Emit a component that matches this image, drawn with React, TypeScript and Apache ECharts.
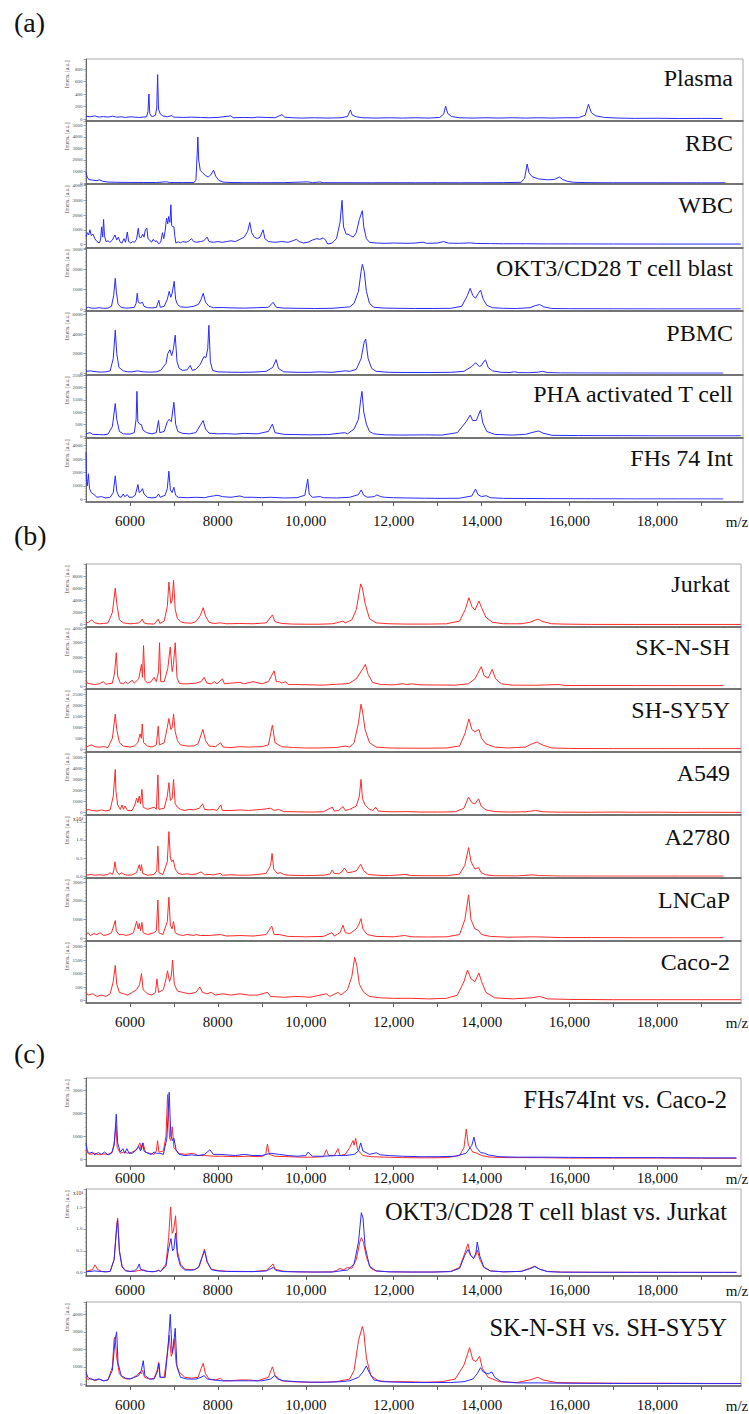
import React, { useEffect, useRef } from 'react';
import * as echarts from 'echarts';

// ---------- DATA (m/z, intensity pairs) ----------
const plasma = [5000,45,5100,35,5200,50,5300,30,5400,40,5500,30,5600,45,5700,30,5800,35,5900,25,6000,35,6100,30,6200,25,6300,30,6380,35,6410,120,6432,400,6450,90,6480,50,6520,40,6580,60,6610,180,6630,710,6650,160,6690,80,6750,50,6850,35,6948,55,7000,30,7200,25,7400,30,7600,25,7800,20,8000,25,8296,50,8350,20,8600,25,8800,20,8900,30,9100,25,9300,20,9460,70,9520,30,9700,20,9900,15,10200,20,10500,15,10800,20,10950,40,11017,145,11060,60,11150,35,11300,20,11600,15,11900,20,12200,15,12500,20,12800,15,13050,25,13140,80,13183,205,13230,90,13320,40,13500,20,13800,15,14100,20,14400,15,14700,20,15000,15,15300,20,15600,15,15900,20,16200,20,16360,60,16433,235,16500,100,16600,50,16800,25,17100,15,17500,10,18000,12,18500,8,19000,10,19480,8];
const rbc = [5000,950,5020,600,5060,300,5150,250,5250,200,5300,280,5380,150,5500,80,5700,60,6000,50,6300,45,6600,40,6834,110,6900,40,7200,35,7450,40,7500,200,7530,2500,7545,4000,7565,2000,7600,1100,7650,900,7720,650,7780,520,7840,700,7903,1120,7950,600,8020,250,8115,80,8300,40,8600,30,9000,25,9500,30,10050,100,10150,30,10320,90,10400,30,10800,25,11500,20,12000,25,12500,20,13000,25,13500,20,14000,25,14500,30,14900,60,14980,400,15038,1650,15080,900,15150,550,15300,350,15500,280,15650,300,15774,520,15850,300,15950,150,16100,60,16400,30,17000,20,18000,20,19000,15,19550,15];
const wbc = [5000,500,5030,800,5060,650,5090,1000,5120,600,5160,700,5200,400,5250,200,5300,100,5330,300,5356,1200,5380,500,5400,1700,5420,600,5455,200,5500,250,5545,150,5600,300,5660,650,5700,300,5735,500,5780,150,5820,100,5864,400,5900,150,5940,850,5970,200,6020,100,6060,200,6100,150,6150,350,6190,1100,6215,500,6250,450,6290,700,6320,500,6350,1000,6386,1100,6410,400,6450,300,6490,150,6530,350,6570,200,6610,250,6650,50,6700,150,6740,800,6770,400,6800,900,6833,1800,6860,1400,6880,1900,6909,1500,6932,2700,6950,1300,6970,1200,7000,1200,7020,600,7045,100,7100,180,7150,120,7200,200,7280,150,7350,250,7400,400,7450,200,7520,150,7600,200,7680,250,7757,500,7800,200,7900,150,8000,200,8100,150,8200,200,8300,250,8400,200,8500,350,8600,500,8680,900,8727,1500,8770,800,8830,500,8900,400,8960,500,9030,1000,9070,400,9150,200,9300,150,9450,200,9600,150,9700,250,9788,350,9850,200,9950,100,10050,150,10150,300,10250,400,10320,350,10400,450,10450,300,10500,30,10600,100,10700,400,10780,1500,10826,3000,10860,1200,10920,700,10962,700,11020,600,11080,500,11150,800,11220,1700,11288,2300,11320,1200,11380,400,11450,150,11600,100,11800,80,12000,100,12300,80,12500,100,12668,160,12750,80,13000,100,13137,200,13250,90,13500,80,13728,110,13900,70,14200,60,14500,50,15000,50,15500,40,16000,40,17000,35,18000,30,19000,30,19900,30];
const okt3 = [5000,60,5060,100,5120,60,5200,50,5300,80,5400,50,5500,60,5580,150,5630,700,5666,1550,5690,900,5730,250,5800,100,5900,60,6000,70,6100,100,6140,300,6166,800,6190,350,6230,300,6286,350,6320,150,6400,80,6500,70,6600,90,6657,450,6690,100,6780,150,6850,500,6893,900,6930,600,6960,800,7007,1400,7040,500,7080,250,7150,120,7300,100,7450,150,7560,250,7620,500,7667,800,7720,350,7800,150,7900,80,8100,90,8300,70,8600,60,8900,80,9150,100,9258,350,9330,100,9500,60,9800,50,10200,40,10600,50,10888,100,11000,120,11100,300,11200,900,11260,1900,11289,2250,11330,1900,11380,900,11450,300,11550,100,11800,60,12100,50,12500,40,12900,40,13300,50,13550,150,13680,700,13742,1050,13800,700,13864,550,13930,800,13978,960,14040,500,14120,200,14250,80,14500,50,14800,40,15100,80,15220,180,15320,240,15420,120,15600,40,16000,30,17000,25,18000,20,19000,20,19900,20];
const pbmc = [5000,200,5100,250,5160,200,5250,150,5350,120,5450,150,5550,250,5620,1500,5666,4400,5700,2000,5750,600,5850,250,5950,150,6050,150,6173,250,6300,150,6450,120,6600,150,6700,300,6820,1000,6860,2000,6909,2400,6950,1800,6990,2500,7030,3900,7070,1200,7120,500,7200,300,7300,350,7371,800,7420,300,7500,400,7600,900,7682,1700,7730,1600,7770,2500,7796,4900,7830,1200,7880,300,8000,150,8200,120,8500,100,8800,120,9100,200,9250,600,9326,1400,9380,500,9500,150,9800,100,10100,100,10318,150,10600,100,10900,250,11000,200,11150,400,11260,1500,11330,3200,11364,3500,11420,1500,11500,500,11600,200,11900,100,12300,80,12800,80,13300,100,13600,200,13780,700,13864,1080,13950,700,14000,800,14060,1250,14091,1370,14150,600,14250,250,14450,100,14650,80,14750,160,14850,70,15100,60,15300,120,15390,200,15500,80,15800,40,16500,30,17500,25,18500,20,19500,20];
const pha = [5000,100,5090,150,5150,80,5300,70,5400,60,5500,90,5600,400,5666,1350,5700,700,5760,200,5850,100,6000,90,6100,150,6140,700,6159,1850,6180,600,6220,500,6260,480,6300,250,6380,150,6500,100,6600,150,6650,650,6680,150,6780,200,6850,600,6893,700,6940,600,7000,1400,7040,500,7090,200,7200,120,7350,100,7500,150,7600,450,7666,650,7720,300,7800,130,8000,100,8200,110,8400,90,8600,120,8900,100,9150,200,9242,500,9300,150,9500,80,9800,70,10100,60,10500,70,10886,150,10950,100,11100,300,11200,700,11250,1500,11280,1850,11320,1000,11380,500,11450,200,11550,100,11800,60,12200,50,12700,60,13100,50,13450,150,13650,600,13742,870,13800,650,13880,650,13977,1080,14030,550,14120,200,14300,80,14700,50,15000,80,15200,180,15303,220,15400,130,15600,40,16200,30,17200,25,18200,20,19200,20,19900,20];
const fhs74 = [5000,3500,5010,1500,5030,1000,5055,1900,5080,800,5120,500,5200,300,5250,150,5350,200,5450,100,5550,150,5620,500,5666,1750,5700,600,5750,200,5800,150,5848,400,5880,200,5940,350,5980,150,6050,150,6120,300,6182,1100,6210,500,6250,600,6286,800,6320,400,6400,150,6500,100,6600,150,6650,400,6690,150,6800,300,6850,800,6886,2100,6920,700,6960,500,7000,900,7040,300,7100,150,7300,120,7500,150,7700,120,7800,200,7900,250,8000,300,8100,200,8300,150,8500,250,8600,150,8800,150,9000,120,9200,150,9500,100,9800,120,9980,300,10045,1500,10080,400,10150,150,10330,200,10400,120,10700,100,11000,150,11200,350,11264,700,11320,300,11400,150,11560,200,11621,330,11700,200,11800,150,12000,120,12300,100,12700,80,13100,70,13500,80,13780,250,13864,760,13920,350,14000,200,14106,270,14200,120,14500,70,15000,60,15500,50,16500,40,17500,30,18500,30,19500,25];

const jurkat = [5000,300,5060,400,5129,800,5200,300,5300,150,5400,200,5500,300,5600,2000,5666,6000,5700,3500,5760,800,5850,300,6000,150,6100,200,6200,300,6240,500,6280,900,6320,300,6400,150,6550,100,6644,900,6680,200,6780,600,6850,3000,6886,7000,6930,3500,6960,4000,6992,7300,7030,2500,7080,1000,7150,500,7250,300,7400,250,7500,500,7600,1500,7666,2800,7720,1400,7800,400,7900,200,8060,300,8200,150,8500,200,8800,150,9100,300,9241,1600,9300,500,9450,200,9700,100,10000,80,10300,80,10600,150,10700,300,10848,600,10900,300,11050,800,11150,2500,11250,6700,11290,6000,11350,3500,11450,1000,11600,300,11900,150,12300,100,12800,100,13200,150,13500,600,13630,2500,13712,4430,13780,3000,13850,2400,13940,3900,14000,2800,14100,1200,14250,400,14500,150,14900,150,15100,400,15280,920,15400,500,15600,150,16000,80,16500,50,17500,40,18500,40,19500,40,19900,40];
const sknsh = [5000,400,5030,200,5100,150,5200,100,5300,150,5394,300,5450,120,5600,200,5650,900,5689,2300,5720,700,5780,200,5850,150,5900,300,5950,150,6050,400,6100,200,6200,500,6263,1500,6285,600,6309,2800,6340,400,6400,200,6480,300,6550,600,6600,300,6650,1000,6673,3000,6700,300,6780,300,6860,1200,6917,2700,6960,1000,6990,1500,7030,3000,7070,600,7120,200,7200,150,7300,150,7500,200,7620,300,7689,600,7750,200,7850,150,7920,300,7980,150,8106,500,8150,150,8300,200,8500,250,8600,150,8800,300,9000,150,9150,300,9280,1050,9330,300,9400,300,9450,200,9540,300,9600,100,9800,100,10100,80,10400,60,10700,120,10900,150,11000,200,11150,500,11300,1200,11356,1500,11420,800,11520,250,11700,100,12000,80,12212,160,12300,100,12400,150,12600,80,13000,70,13400,60,13700,150,13850,500,13993,1340,14060,700,14150,550,14243,1150,14320,500,14450,150,14700,60,15200,50,15757,100,15900,40,16500,30,17500,30,18500,25,19500,25];
const shsy5y = [5000,100,5060,150,5129,200,5200,120,5300,100,5400,120,5500,80,5600,500,5666,1600,5700,900,5760,300,5850,150,6000,100,6100,150,6180,300,6230,700,6260,500,6280,1150,6310,300,6400,150,6500,100,6600,200,6644,1050,6670,200,6780,300,6850,1000,6886,1400,6930,900,6960,1000,6992,1600,7030,800,7080,400,7150,200,7300,150,7450,150,7550,250,7659,900,7720,400,7800,150,7950,120,8060,300,8120,100,8300,80,8500,120,8700,100,9000,120,9150,200,9241,1100,9300,300,9450,120,9700,80,10000,60,10300,60,10700,80,10900,150,11000,100,11100,300,11200,1200,11257,2050,11290,1750,11350,900,11450,300,11600,100,11900,60,12300,50,12800,50,13200,60,13500,150,13620,700,13712,1380,13780,900,13850,800,13940,900,14000,500,14100,250,14300,100,14600,60,15000,100,15150,250,15265,330,15380,200,15600,60,16000,40,17000,30,18000,30,19000,30,19900,30];
const a549 = [5000,200,5060,300,5130,200,5250,150,5350,250,5450,150,5550,250,5620,1500,5666,3900,5680,2000,5720,700,5780,300,5820,700,5850,300,5890,600,5940,200,6050,200,6110,700,6151,1300,6180,900,6212,1500,6240,800,6273,2100,6300,500,6400,300,6550,500,6600,300,6636,3400,6660,300,6780,400,6850,1500,6886,2700,6920,1100,6960,1300,6992,3000,7030,800,7080,500,7150,300,7250,200,7350,300,7450,250,7580,400,7651,800,7700,300,7800,250,7900,300,7980,200,8068,700,8100,200,8300,200,8500,250,8700,200,9000,300,9200,400,9290,200,9380,300,9500,100,9800,80,10100,60,10400,80,10605,500,10650,150,10750,200,10848,550,10900,200,11000,300,11150,600,11220,1500,11257,3000,11290,1300,11350,700,11450,300,11530,200,11591,500,11650,150,11800,100,12000,80,12300,100,12600,60,13000,60,13400,80,13600,400,13705,1400,13780,900,13850,800,13932,1250,13990,600,14100,250,14300,100,14600,60,15000,80,15227,200,15400,80,15800,50,16500,40,17000,60,17500,40,18000,50,18500,30,19000,40,19900,30];
const a2780 = [5000,300,5100,500,5200,300,5300,400,5400,300,5500,500,5545,1000,5600,500,5630,1500,5659,4000,5690,1500,5750,500,5820,1000,5860,500,5950,300,6050,400,6150,1000,6212,3200,6240,1500,6263,3200,6290,800,6400,300,6550,500,6610,1500,6636,8300,6660,1000,6750,500,6850,4000,6886,12300,6920,5000,6950,4000,6985,4500,7030,2000,7100,800,7200,500,7300,700,7400,500,7500,600,7620,1200,7700,400,7800,500,7900,400,8060,800,8100,300,8300,400,8500,300,8700,300,8900,500,9100,800,9200,3000,9234,6300,9270,2000,9350,800,9430,1000,9500,500,9600,300,10000,200,10400,300,10550,600,10598,1700,10650,800,10750,700,10820,1200,10880,2300,10950,1000,11062,1200,11150,1500,11250,3300,11320,1500,11420,500,11600,300,11900,200,12273,500,12400,200,12800,150,13200,150,13500,600,13620,3000,13705,7900,13760,4000,13850,2000,13932,2400,13990,1000,14100,400,14300,150,14800,100,15180,400,15300,200,15800,80,16500,60,17500,50,18500,50,19500,50];
const lncap = [5000,200,5050,300,5100,150,5180,250,5250,200,5320,300,5400,150,5500,200,5580,300,5636,700,5666,950,5690,400,5750,200,5850,200,5900,150,6000,200,6080,300,6151,900,6190,500,6212,800,6240,400,6273,850,6300,300,6400,200,6550,300,6600,400,6636,2050,6660,300,6750,200,6850,900,6886,2200,6920,700,6960,500,6992,900,7030,300,7100,200,7200,150,7300,200,7450,150,7500,200,7600,150,7800,150,8060,200,8200,120,8500,150,8800,120,9100,200,9227,650,9280,200,9400,200,9600,100,10000,80,10400,100,10598,300,10650,120,10780,300,10848,700,10900,300,11000,250,11150,500,11200,700,11257,1050,11300,500,11400,200,11600,100,12000,80,12250,150,12400,80,12800,70,13200,80,13500,200,13620,1000,13705,2330,13760,1000,13850,500,13932,420,14000,200,14200,100,14600,60,15200,80,15800,40,16500,40,17500,30,18500,30,19500,30];
const caco2 = [5000,300,5050,200,5150,250,5250,150,5350,200,5450,150,5550,250,5620,700,5666,1300,5700,600,5760,300,5850,250,5950,200,6050,300,6150,400,6220,600,6263,1000,6300,400,6400,250,6500,200,6580,300,6614,800,6650,300,6760,400,6820,800,6855,1100,6900,700,6940,900,6970,1500,7010,600,7080,350,7200,300,7350,250,7500,300,7591,500,7650,300,7750,250,7850,300,7950,200,8100,250,8300,200,8500,250,8700,200,8900,200,9128,300,9200,150,9500,120,9800,150,10100,120,10470,250,10550,150,10735,300,10800,200,10950,400,11050,900,11114,1600,11160,1300,11220,600,11320,300,11450,150,11700,100,12000,80,12400,80,12800,60,13200,80,13450,200,13600,700,13680,1130,13760,800,13850,700,13940,1020,14000,700,14100,300,14300,100,14700,60,15150,100,15320,150,15500,60,16000,40,17000,30,18000,30,19000,30,19900,30];

const c1Fhs = [5000,700,5030,350,5080,250,5150,300,5200,180,5280,280,5350,200,5420,300,5500,180,5580,250,5640,600,5689,1950,5720,700,5780,300,5840,450,5880,250,5930,450,5980,250,6050,250,6120,350,6200,550,6240,350,6286,700,6320,350,6400,250,6480,200,6550,300,6600,250,6680,250,6760,200,6840,900,6893,2900,6930,1000,6970,800,7000,900,7050,400,7120,200,7250,150,7400,180,7550,150,7700,200,7818,400,7900,200,8050,200,8200,180,8400,150,8600,200,8800,150,9000,150,9200,250,9400,200,9600,150,9800,120,10000,150,10053,300,10150,120,10400,120,10700,150,10900,150,11100,200,11200,350,11250,700,11300,350,11450,200,11605,270,11700,180,11900,150,12200,120,12600,100,13000,100,13400,120,13650,250,13780,600,13826,950,13880,500,13980,280,14070,250,14150,180,14400,100,14800,80,15400,80,16000,70,17000,60,18000,60,19000,50,19800,50];
const c1Caco = [5000,400,5040,250,5100,200,5200,250,5300,180,5400,220,5500,200,5600,300,5650,800,5682,1450,5710,500,5780,250,5850,300,5950,250,6050,300,6150,400,6227,700,6260,400,6300,700,6350,300,6450,250,6550,200,6600,350,6628,800,6660,300,6760,350,6820,1000,6856,2800,6900,900,6930,800,6962,1400,7000,500,7100,250,7250,200,7440,250,7550,150,7700,150,7900,120,8100,120,8400,100,8700,120,9000,100,9090,200,9128,650,9170,200,9300,120,9600,100,9900,80,10200,80,10400,100,10470,400,10520,150,10650,150,10735,450,10780,150,10900,200,11000,500,11075,800,11100,600,11136,900,11180,400,11300,150,11500,100,11800,80,12200,60,12700,50,13200,60,13500,150,13600,500,13652,1300,13700,600,13800,300,13900,250,14000,150,14200,80,14600,60,15300,60,16000,40,17000,40,18000,40,19000,30,19800,30];
const c2Okt3 = [5000,200,5200,400,5300,300,5450,200,5550,300,5640,3000,5700,10500,5720,12000,5760,5000,5820,1300,5900,400,6000,300,6100,400,6170,1000,6212,2000,6240,800,6300,500,6400,300,6550,250,6650,500,6700,300,6820,1500,6880,5500,6932,7800,6970,5000,7000,5500,7038,9000,7080,4000,7150,1500,7250,600,7450,600,7560,1200,7640,3500,7700,5000,7760,2500,7850,700,8000,400,8200,300,8500,250,8800,250,9100,400,9260,1200,9320,500,9500,250,9800,200,10200,150,10600,150,10850,500,10950,600,11100,2000,11200,7000,11265,13700,11303,12500,11350,6000,11450,1500,11600,400,11900,200,12400,150,12900,150,13300,250,13500,1000,13620,4000,13690,5300,13750,4000,13820,3200,13870,4500,13902,7000,13960,3800,14050,1300,14200,400,14500,200,14900,300,15100,900,15212,1400,15320,800,15500,250,15800,120,16500,100,17500,80,18500,80,19500,70,19800,70];
const c2Jurkat = [5000,300,5150,700,5205,1800,5260,800,5350,300,5450,200,5550,300,5640,3000,5700,11000,5720,12500,5760,5000,5820,1500,5900,500,6000,300,6100,300,6200,500,6300,700,6400,300,6500,200,6600,300,6650,600,6700,300,6820,2000,6880,8000,6925,15000,6960,9000,6990,9500,7038,13000,7080,5000,7150,2000,7250,800,7400,700,7500,800,7580,1500,7640,3500,7695,5400,7750,2500,7850,800,8000,500,8200,300,8500,300,8800,250,9100,500,9258,2000,9300,800,9500,300,9800,200,10200,150,10600,200,10700,500,10780,1000,10850,600,10950,1200,11050,1000,11150,3000,11230,7000,11265,8000,11310,7000,11380,3500,11480,1000,11600,400,11900,200,12400,150,12900,150,13300,300,13500,1200,13620,4500,13690,6600,13750,4000,13820,3300,13870,4000,13902,5200,13960,3000,14050,1200,14200,400,14500,200,14900,300,15100,1000,15212,1500,15320,800,15500,300,15800,150,16500,100,17500,100,18500,80,19500,80,19800,80];
const c3Sknsh = [5000,700,5040,400,5100,300,5200,250,5300,300,5400,200,5500,250,5600,800,5660,2500,5697,3000,5730,1200,5800,500,5900,350,6000,300,6100,400,6200,500,6260,800,6303,1350,6340,500,6450,300,6550,300,6620,700,6660,1200,6690,400,6800,400,6870,2200,6917,4000,6960,1800,6990,2200,7030,3200,7070,1000,7150,400,7300,300,7500,300,7620,400,7690,500,7760,300,7900,250,8100,200,8400,200,8700,200,9000,200,9200,300,9295,500,9360,300,9500,200,9800,150,10100,120,10500,120,10800,150,11000,200,11200,400,11300,700,11378,1050,11440,700,11550,250,11750,150,12100,120,12500,100,12900,100,13300,100,13600,150,13800,300,13900,600,13977,950,14040,700,14150,600,14235,700,14300,400,14450,150,14800,80,15300,80,16000,60,17000,50,18000,50,19000,40,19900,40];
const c3Shsy = [5000,400,5050,250,5100,350,5200,200,5300,300,5400,200,5500,250,5600,1000,5640,2600,5659,2700,5700,1500,5760,600,5850,350,5950,300,6050,350,6150,500,6227,700,6260,600,6290,800,6330,400,6450,300,6550,350,6620,800,6650,1250,6680,400,6780,400,6850,1800,6893,2800,6940,1600,6970,1800,7007,2600,7050,1200,7120,700,7250,400,7400,350,7550,400,7620,900,7666,1200,7720,600,7800,300,7950,250,8063,350,8120,200,8300,200,8500,250,8700,250,8900,200,9150,400,9241,1000,9300,500,9450,200,9700,150,10000,120,10400,120,10700,150,10900,250,11000,300,11100,800,11200,2500,11287,3300,11320,3000,11380,1500,11480,500,11650,200,11900,150,12300,150,12700,120,13100,150,13400,300,13600,1100,13728,2100,13800,1400,13870,1300,13955,1600,14020,900,14150,400,14400,150,14800,100,15100,250,15280,400,15400,250,15700,100,16300,80,17200,60,18200,60,19200,50,19900,50];

const panelAnames = ['Plasma', 'RBC', 'WBC', 'OKT3/CD28 T cell blast', 'PBMC', 'PHA activated T cell', 'FHs 74 Int'];
const panelBnames = ['Jurkat', 'SK-N-SH', 'SH-SY5Y', 'A549', 'A2780', 'LNCaP', 'Caco-2'];
const panelCnames = ['FHs74Int vs. Caco-2', 'OKT3/CD28 T cell blast vs. Jurkat', 'SK-N-SH vs. SH-SY5Y'];
const xTickLabels = [6000, 8000, 10000, 12000, 14000, 16000, 18000];

// ---------- LAYOUT / STYLE ----------
const BLUE = '#2a2aff';
const RED = '#ff2a2a';
const SERIF = 'Liberation Serif';

type Sub = {
  title: string; series: { data: number[]; color: string }[];
  top: number; bottom: number; zero: number; max: number; interval: number;
  sci?: boolean; titleY: number; showX?: boolean; labelMargin?: number;
};
type Panel = { letter: string; letterY: number; left: number; right: number; xMax: number; titleRight: number; titleSize: number; intensX: number; subs: Sub[] };

const panels: Panel[] = [
  {
    letter: '(a)', letterY: 22, left: 86, right: 743, xMax: 19950, titleRight: 733, titleSize: 24, intensX: 66.5,
    subs: [
      { title: panelAnames[0], series: [{ data: plasma, color: BLUE }], top: 59, bottom: 121, zero: 119, max: 960, interval: 200, titleY: 78 },
      { title: panelAnames[1], series: [{ data: rbc, color: BLUE }], top: 121, bottom: 184, zero: 183, max: 5390, interval: 1000, titleY: 143 },
      { title: panelAnames[2], series: [{ data: wbc, color: BLUE }], top: 184, bottom: 248, zero: 244.5, max: 4110, interval: 1000, titleY: 205 },
      { title: panelAnames[3], series: [{ data: okt3, color: BLUE }], top: 248, bottom: 311, zero: 309.3, max: 3065, interval: 1000, titleY: 268 },
      { title: panelAnames[4], series: [{ data: pbmc, color: BLUE }], top: 311, bottom: 375, zero: 373.3, max: 6360, interval: 2000, titleY: 333 },
      { title: panelAnames[5], series: [{ data: pha, color: BLUE }], top: 375, bottom: 438, zero: 436.3, max: 2523, interval: 500, titleY: 394 },
      { title: panelAnames[6], series: [{ data: fhs74, color: BLUE }], top: 438, bottom: 502, zero: 499.3, max: 4575, interval: 1000, titleY: 458, showX: true, labelMargin: 11 },
    ],
  },
  {
    letter: '(b)', letterY: 535, left: 86, right: 741, xMax: 19903, titleRight: 730, titleSize: 24, intensX: 66.5,
    subs: [
      { title: panelBnames[0], series: [{ data: jurkat, color: RED }], top: 564, bottom: 627, zero: 624.7, max: 9975, interval: 2000, titleY: 584 },
      { title: panelBnames[1], series: [{ data: sknsh, color: RED }], top: 627, bottom: 689, zero: 686, max: 4089, interval: 1000, titleY: 647 },
      { title: panelBnames[2], series: [{ data: shsy5y, color: RED }], top: 689, bottom: 752, zero: 749.3, max: 2741, interval: 500, titleY: 710 },
      { title: panelBnames[3], series: [{ data: a549, color: RED }], top: 752, bottom: 815, zero: 812.7, max: 5468, interval: 1000, titleY: 773 },
      { title: panelBnames[4], series: [{ data: a2780, color: RED }], top: 815, bottom: 878, zero: 876.3, max: 16870, interval: 5000, sci: true, titleY: 837 },
      { title: panelBnames[5], series: [{ data: lncap, color: RED }], top: 878, bottom: 941, zero: 938.3, max: 3230, interval: 1000, titleY: 900 },
      { title: panelBnames[6], series: [{ data: caco2, color: RED }], top: 941, bottom: 1003, zero: 1000.5, max: 2204, interval: 500, titleY: 962, showX: true, labelMargin: 11 },
    ],
  },
  {
    letter: '(c)', letterY: 1053, left: 86, right: 741, xMax: 19903, titleRight: 727, titleSize: 24.5, intensX: 66.5,
    subs: [
      { title: panelCnames[0], series: [{ data: c1Caco, color: RED }, { data: c1Fhs, color: BLUE }], top: 1078, bottom: 1166, zero: 1159, max: 3522, interval: 1000, titleY: 1099, showX: true, labelMargin: 4 },
      { title: panelCnames[1], series: [{ data: c2Jurkat, color: RED }, { data: c2Okt3, color: BLUE }], top: 1189, bottom: 1276, zero: 1272.7, max: 19110, interval: 5000, sci: true, titleY: 1211, showX: true, labelMargin: 6 },
      { title: panelCnames[2], series: [{ data: c3Shsy, color: RED }, { data: c3Sknsh, color: BLUE }], top: 1302, bottom: 1386, zero: 1384.3, max: 4703, interval: 1000, titleY: 1327, showX: true, labelMargin: 11 },
    ],
  },
];

const pairs = (a: number[]) => {
  const out: number[][] = [];
  for (let i = 0; i + 1 < a.length; i += 2) out.push([a[i], a[i + 1]]);
  return out;
};

const fmtX = (v: number) => {
  if (xTickLabels.indexOf(v) < 0) return '';
  return v >= 10000 ? `${Math.round(v / 1000)},000` : String(v);
};

function buildOption() {
  const grid: any[] = [], xAxis: any[] = [], yAxis: any[] = [], series: any[] = [], graphic: any[] = [];
  let k = 0;
  panels.forEach((p) => {
    graphic.push({ type: 'text', x: 14, y: p.letterY, style: { text: p.letter, fontSize: 28, fontFamily: SERIF, fill: '#111', align: 'left', verticalAlign: 'middle', textAlign: 'left', textVerticalAlign: 'middle' } });
    const W = p.right - p.left;
    p.subs.forEach((s) => {
      const fi = 2 * k, di = 2 * k + 1;
      grid.push({ left: p.left, top: s.top, width: W, height: s.bottom - s.top, show: true, borderColor: '#a9a9a9', borderWidth: 1, backgroundColor: 'rgba(0,0,0,0)' });
      grid.push({ left: p.left, top: s.top, width: W, height: s.zero - s.top, show: false });
      xAxis.push({
        type: 'value', gridIndex: fi, min: 5000, max: p.xMax, interval: 1000, position: 'bottom',
        axisLine: { show: true, onZero: false, lineStyle: { color: '#5c5c5c', width: 1.5 } },
        axisTick: { show: !!s.showX, length: 4, lineStyle: { color: '#5c5c5c', width: 1 } },
        axisLabel: { show: !!s.showX, margin: s.labelMargin ?? 11, fontSize: 15, fontFamily: SERIF, color: '#111', formatter: fmtX, showMinLabel: false, showMaxLabel: false },
        splitLine: { show: false },
      });
      xAxis.push({ type: 'value', gridIndex: di, min: 5000, max: p.xMax, show: false, splitLine: { show: false } });
      yAxis.push({
        type: 'value', gridIndex: fi, min: 0, max: 1,
        axisLine: { show: true, onZero: false, lineStyle: { color: '#6a6a6a', width: 1 } },
        axisTick: { show: false }, axisLabel: { show: false }, splitLine: { show: false },
      });
      const iv = s.interval;
      yAxis.push({
        type: 'value', gridIndex: di, min: 0, max: s.max, interval: iv,
        axisLine: { show: false },
        axisTick: { show: true, length: 2.5, lineStyle: { color: '#777', width: 0.7 } },
        minorTick: { show: true, splitNumber: 5, length: 1.3, lineStyle: { color: '#999', width: 0.5 } },
        axisLabel: {
          fontSize: 5, color: '#444', margin: 3.5, fontFamily: SERIF,
          formatter: (v: number) => (Math.abs(v % iv) < 1e-6 ? (s.sci ? (v / 10000).toFixed(1) : String(v)) : ''),
        },
        splitLine: { show: false },
      });
      s.series.forEach((sr) => {
        series.push({
          type: 'line', xAxisIndex: di, yAxisIndex: di, data: pairs(sr.data), showSymbol: false, symbol: 'none',
          lineStyle: { color: sr.color, width: 1 }, silent: true, animation: false,
        });
      });
      graphic.push({ type: 'text', x: p.titleRight, y: s.titleY, style: { text: s.title, fontSize: p.titleSize, fontFamily: SERIF, fill: '#111', align: 'right', verticalAlign: 'middle', textAlign: 'right', textVerticalAlign: 'middle' } });
      graphic.push({ type: 'text', x: p.intensX, y: s.top + 1.5, rotation: Math.PI / 2, style: { text: 'Intens. [a.u.]', fontSize: 5.5, fontFamily: SERIF, fill: '#444', align: 'right', verticalAlign: 'middle', textAlign: 'right', textVerticalAlign: 'middle' } });
      if (s.sci) {
        graphic.push({ type: 'text', x: 73, y: s.top + 4, style: { text: 'x10⁴', fontSize: 5.5, fontFamily: SERIF, fill: '#444', align: 'left', verticalAlign: 'middle', textAlign: 'left', textVerticalAlign: 'middle' } });
      }
      if (s.showX) {
        graphic.push({ type: 'text', x: 737, y: s.bottom + (s.labelMargin ?? 11) + 8.5, style: { text: 'm/z', fontSize: 15, fontFamily: SERIF, fill: '#111', align: 'center', verticalAlign: 'middle', textAlign: 'center', textVerticalAlign: 'middle' } });
      }
      k++;
    });
  });
  return { animation: false, backgroundColor: '#ffffff', grid, xAxis, yAxis, series, graphic };
}

export default function App() {
  const ref = useRef<HTMLDivElement>(null);
  useEffect(() => {
    if (!ref.current) return;
    const chart = echarts.init(ref.current, undefined, { renderer: 'svg' });
    chart.setOption(buildOption() as any);
    return () => chart.dispose();
  }, []);
  return <div ref={ref} style={{ position: 'absolute', left: 0, top: 0, width: 749, height: 1414, background: '#fff' }} />;
}
